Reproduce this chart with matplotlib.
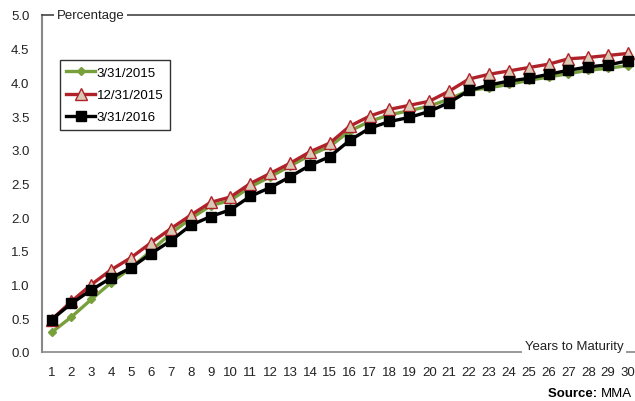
import matplotlib
matplotlib.use('Agg')
import matplotlib.pyplot as plt
import numpy as np

plt.rcParams['font.family'] = ['Liberation Sans', 'DejaVu Sans']

years = list(range(1, 31))
series_labels = ['3/31/2015', '12/31/2015', '3/31/2016']

yield_2015_03 = [0.29, 0.52, 0.78, 1.03, 1.25, 1.50, 1.76, 1.98, 2.17, 2.25,
                 2.45, 2.60, 2.76, 2.92, 3.05, 3.28, 3.42, 3.52, 3.58, 3.65,
                 3.75, 3.88, 3.92, 3.97, 4.03, 4.08, 4.13, 4.18, 4.21, 4.25]
yield_2015_12 = [0.48, 0.75, 1.00, 1.22, 1.40, 1.62, 1.83, 2.03, 2.22, 2.30,
                 2.50, 2.65, 2.80, 2.97, 3.10, 3.35, 3.50, 3.60, 3.66, 3.72,
                 3.87, 4.05, 4.12, 4.17, 4.22, 4.27, 4.35, 4.37, 4.40, 4.43]
yield_2016_03 = [0.48, 0.72, 0.92, 1.10, 1.25, 1.46, 1.65, 1.88, 2.01, 2.11,
                 2.31, 2.44, 2.60, 2.77, 2.90, 3.14, 3.32, 3.42, 3.48, 3.57,
                 3.70, 3.88, 3.96, 4.02, 4.06, 4.12, 4.18, 4.23, 4.26, 4.32]

y_ticks = [0.0, 0.5, 1.0, 1.5, 2.0, 2.5, 3.0, 3.5, 4.0, 4.5, 5.0]

fig = plt.figure(figsize=(6.35, 4.02), dpi=100)
ax = fig.add_axes([42 / 635, 49 / 402, 1 - 42 / 635, 337 / 402])

ax.plot(years, yield_2015_03, color='#77a03c', lw=2.4, marker='D', ms=4.5,
        mfc='#77a03c', mec='#77a03c', label=series_labels[0])
ax.plot(years, yield_2015_12, color='#b0222a', lw=2.4, marker='^', ms=8,
        mfc='#d8c8b4', mec='#b0222a', mew=1, label=series_labels[1])
ax.plot(years, yield_2016_03, color='black', lw=2.4, marker='s', ms=7.5,
        mfc='black', mec='black', label=series_labels[2])

ax.set_xlim(0.52, 30.35)
ax.set_ylim(0, 5.0)
ax.set_xticks(years)
ax.set_yticks(y_ticks)
ax.set_yticklabels([f'{v:.1f}' for v in y_ticks])
ax.tick_params(length=0, labelsize=9.5, colors='#222222')
ax.tick_params(axis='x', pad=10)
ax.tick_params(axis='y', pad=9)

ax.spines['right'].set_visible(False)
ax.spines['left'].set_color('#888888')
ax.spines['left'].set_linewidth(1.5)
ax.spines['bottom'].set_color('#888888')
ax.spines['bottom'].set_linewidth(1.2)
ax.spines['top'].set_color('#444444')
ax.spines['top'].set_linewidth(1.2)

ax.text(0.025, 1.0, 'Percentage', transform=ax.transAxes, fontsize=9.5,
        ha='left', va='center', color='#222222',
        bbox=dict(facecolor='white', edgecolor='none', pad=2))
ax.text(0.98, 0.0, 'Years to Maturity', transform=ax.transAxes, fontsize=9.5,
        ha='right', va='bottom', color='#222222',
        bbox=dict(facecolor='white', edgecolor='none', pad=2))

leg = ax.legend(loc='upper left', bbox_to_anchor=(0.03, 0.866), fontsize=9.5,
                frameon=True, fancybox=False, handlelength=2.2,
                handletextpad=0.1, borderpad=0.5, labelspacing=0.75,
                borderaxespad=0)
leg.get_frame().set_edgecolor('black')
leg.get_frame().set_linewidth(1.0)

t_mma = fig.text(0.995, 0.004, 'MMA', fontsize=9.5, ha='right', va='bottom')
fig.canvas.draw()
bb = t_mma.get_window_extent()
fig.text(bb.x0 / fig.bbox.width, 0.004, 'Source: ', fontsize=9.5,
         fontweight='bold', ha='right', va='bottom')

fig.savefig('out.png', dpi=100)
